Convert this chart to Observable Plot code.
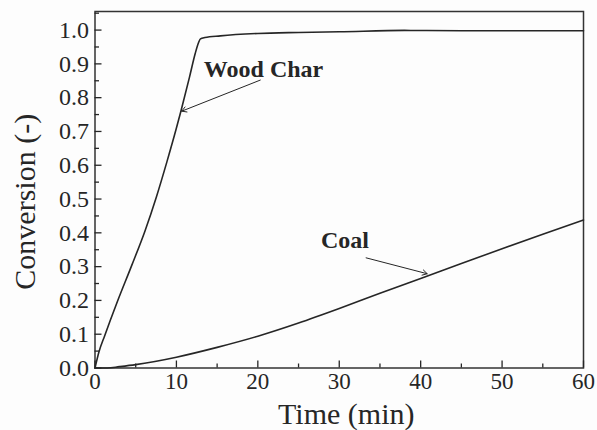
<!DOCTYPE html>
<html>
<head>
<meta charset="utf-8">
<script src="https://cdn.jsdelivr.net/npm/d3@7"></script>
<script src="https://cdn.jsdelivr.net/npm/@observablehq/plot@0.6"></script>
<style>
  html, body { margin: 0; padding: 0; background: #fdfdfd; }
  #chart svg { display: block; }
</style>
</head>
<body>
<div id="chart"></div>
<script>
// Conversion of wood char over time (min)
const woodTime = [0, 0.49, 1.18, 2.74, 4.5, 6.13, 7.55, 8.83, 10.0, 10.55, 11.6, 12.3, 12.7, 12.95, 13.5, 15.4, 20, 25, 30, 38, 45, 60];
const woodConv = [0, 0.048, 0.095, 0.196, 0.303, 0.405, 0.507, 0.61, 0.71, 0.76, 0.86, 0.93, 0.962, 0.974, 0.978, 0.983, 0.990, 0.993, 0.995, 0.999, 0.998, 0.998];

// Conversion of coal over time (min)
const coalTime = [0, 1.5, 3, 5, 10, 15, 20, 25, 30, 35, 40, 45, 50, 55, 60];
const coalConv = [0, 0, 0.004, 0.010, 0.032, 0.061, 0.094, 0.133, 0.176, 0.221, 0.265, 0.309, 0.353, 0.396, 0.438];

// Axis ticks
const xMajor = [0, 10, 20, 30, 40, 50, 60];
const xMinor = [5, 15, 25, 35, 45, 55];
const yMajor = [0, 0.1, 0.2, 0.3, 0.4, 0.5, 0.6, 0.7, 0.8, 0.9, 1.0];
const yMinor = [0.05, 0.15, 0.25, 0.35, 0.45, 0.55, 0.65, 0.75, 0.85, 0.95, 1.05];

// Curve labels and their pointers
const labels = [
  {text: "Wood Char", x: 20.7, y: 0.86},
  {text: "Coal", x: 30.7, y: 0.356}
];
const pointers = [
  {x1: 20.3, y1: 0.852, x2: 10.65, y2: 0.76},
  {x1: 33.3, y1: 0.326, x2: 40.8, y2: 0.279}
];

const wood = woodTime.map((t, i) => ({t, c: woodConv[i]}));
const coal = coalTime.map((t, i) => ({t, c: coalConv[i]}));

const ink = "#262626";
const serif = "'Liberation Serif', 'Times New Roman', serif";

const chart = Plot.plot({
  width: 597,
  height: 430,
  marginLeft: 94.5,
  marginRight: 14,
  marginTop: 11,
  marginBottom: 62.5,
  style: {fontFamily: serif, fontSize: "24px", color: ink, background: "#fdfdfd"},
  x: {domain: [0, 60]},
  y: {domain: [0, 1.055]},
  marks: [
    Plot.frame({stroke: "#333", strokeWidth: 1.5}),
    Plot.axisX({ticks: xMajor, tickSize: -7, tickPadding: 12, tickFormat: d3.format("d"), label: null, strokeWidth: 1.3, fontSize: 23}),
    Plot.axisX({ticks: xMinor, tickSize: -4, text: null, label: null, strokeWidth: 1.3}),
    Plot.axisY({ticks: yMajor, tickSize: -7, tickPadding: 13, tickFormat: d3.format(".1f"), label: null, strokeWidth: 1.3, fontSize: 24}),
    Plot.axisY({ticks: yMinor, tickSize: -4.5, text: null, label: null, strokeWidth: 1.3}),
    Plot.line(wood, {x: "t", y: "c", stroke: ink, strokeWidth: 1.6, curve: "monotone-x"}),
    Plot.line(coal, {x: "t", y: "c", stroke: ink, strokeWidth: 1.6, curve: "monotone-x"}),
    Plot.arrow(pointers, {x1: "x1", y1: "y1", x2: "x2", y2: "y2", stroke: ink, strokeWidth: 1, headLength: 8}),
    Plot.text(labels, {x: "x", y: "y", text: "text", fontWeight: "bold", fontSize: 24, lineAnchor: "bottom", fill: ink}),
    Plot.text(["Time (min)"], {frameAnchor: "bottom", dx: 7, dy: 55.5, lineAnchor: "bottom", fontSize: 30, fill: ink}),
    Plot.text(["Conversion (-)"], {frameAnchor: "left", textAnchor: "middle", dx: -69.5, dy: 12, rotate: -90, fontSize: 30, fill: ink})
  ]
});

document.getElementById("chart").appendChild(chart);
</script>
</body>
</html>
